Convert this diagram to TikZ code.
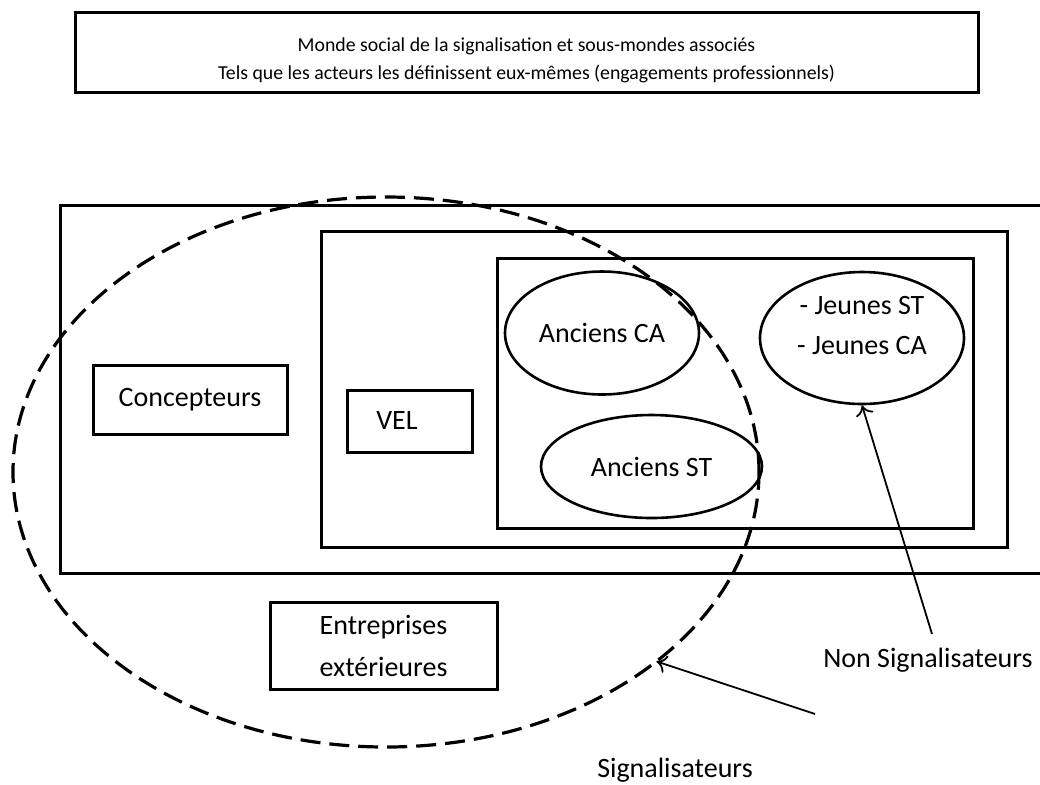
\documentclass[tikz,border=0pt]{standalone}
\usepackage{fontspec}
\setmainfont{Carlito}
\usetikzlibrary{shapes.geometric,arrows.meta}
\begin{document}
\begin{tikzpicture}[x=0.5pt,y=-0.5pt,
        boite/.style={draw,line width=1.5pt,inner sep=0pt},
        bulle/.style={draw,ellipse,line width=1.3pt,inner sep=0pt,font=\fontsize{14pt}{21.5pt}\selectfont,align=center},
        etiquette/.style={font=\fontsize{14pt}{19pt}\selectfont,inner sep=0pt},
        fleche/.style={-{To[length=5pt,width=9pt]},line width=0.9pt}]
            \clip (0,0) rectangle (1040,784);
            \node[boite,minimum width=451.5pt,minimum height=40pt] (titre) at (526.5,52) {};
            \node[align=center,inner sep=0pt,font=\fontsize{9.9pt}{14pt}\selectfont] (titretexte) at (526.5,60) {Monde social de la signalisation et sous-mondes associés\\Tels que les acteurs les définissent eux-mêmes (engagements professionnels)};
            \node[boite,minimum width=500pt,minimum height=184pt] (monde) at (560,389) {};
            \node[boite,minimum width=343pt,minimum height=158pt] (sousmonde) at (664,389) {};
            \node[boite,minimum width=238pt,minimum height=135pt] (noyau) at (735,393) {};
            \node[boite,minimum width=97pt,minimum height=34.5pt,etiquette] (concepteurs) at (190,399.5) {Concepteurs};
            \node[boite,minimum width=62.5pt,minimum height=31pt,etiquette] (vel) at (409.5,421) {VEL\kern12.5pt};
            \node[boite,minimum width=113.5pt,minimum height=43.5pt,etiquette,align=center,font=\fontsize{14pt}{21pt}\selectfont] (entreprises) at (383.5,646) {Entreprises\\extérieures};
            \node[bulle,minimum width=97pt,minimum height=61.5pt] (ancca) at (602,333) {Anciens CA};
            \node[bulle,minimum width=102pt,minimum height=66pt] (jeunes) at (862,338) {};
            \node[etiquette,align=center,font=\fontsize{14pt}{20pt}\selectfont] (jeunestexte) at (862,326) {- Jeunes ST\\- Jeunes CA};
            \node[bulle,minimum width=110.5pt,minimum height=51.5pt] (ancst) at (651.5,466.5) {Anciens ST};
            % ellipse des signalisateurs
            \node[draw,ellipse,line width=1.6pt,dash pattern=on 10pt off 4.5pt,minimum width=373pt,minimum height=275pt,inner sep=0pt,outer sep=0pt] (signal) at (386,472) {};
            \node[etiquette] (nonsig) at (928,660) {Non Signalisateurs};
            \node[etiquette] (sig) at (675,770) {Signalisateurs};
            \coordinate (piednonsig) at (932,634);
            \coordinate (piedsig) at (815,714);
            \draw[fleche] (piednonsig) -- (jeunes.south);
            \draw[fleche] (piedsig) -- (signal.-35.5);
        \end{tikzpicture}
\end{document}
